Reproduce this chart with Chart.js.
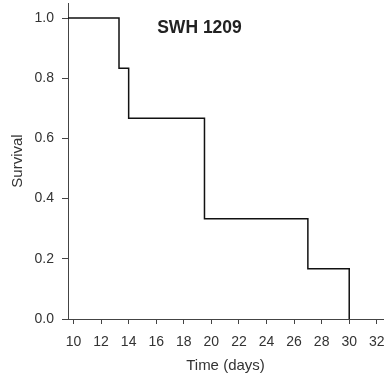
<!DOCTYPE html>
<html>
<head>
<meta charset="utf-8">
<script src="https://cdn.jsdelivr.net/npm/chart.js@4/dist/chart.umd.min.js"></script>
<style>
  html, body { margin: 0; padding: 0; background: #fff; }
  #wrap { width: 388px; height: 381px; }
</style>
</head>
<body>
<div id="wrap"><canvas id="survival-curve"></canvas></div>
<script>
// Kaplan-Meier steps: time at which survival drops, and survival after it
const times = [0, 13.3, 14, 19.5, 27, 30];
const survival = [1.0, 0.833, 0.667, 0.333, 0.167, 0.0];
const xTicks = [10, 12, 14, 16, 18, 20, 22, 24, 26, 28, 30, 32];
const yTicks = [0.0, 0.2, 0.4, 0.6, 0.8, 1.0];
const panelTitle = 'SWH 1209';

const ctx = document.getElementById('survival-curve').getContext('2d');

const textColor = '#333';
const axisColor = '#444';
const fontFamily = '"Liberation Sans", Arial, sans-serif';

// draws the panel name inside the plot area
const panelLabel = {
  id: 'panelLabel',
  afterDraw(chart) {
    const { ctx, chartArea } = chart;
    ctx.save();
    ctx.font = 'bold 17.5px ' + fontFamily;
    ctx.fillStyle = '#222';
    ctx.textAlign = 'center';
    ctx.textBaseline = 'middle';
    ctx.fillText(panelTitle, chartArea.left + 131.5, chartArea.top + 25.5);
    ctx.restore();
  }
};

const data = {
  datasets: [{
    label: 'Survival',
    data: times.map((t, i) => ({ x: t, y: survival[i] })),
    borderColor: '#111',
    borderWidth: 1.5,
    stepped: true,
    pointRadius: 0,
    fill: false
  }]
};

const options = {
  responsive: true,
  maintainAspectRatio: false,
  animation: false,
  layout: { padding: { top: 3, right: 5, left: 0, bottom: 0 } },
  plugins: {
    legend: { display: false },
    tooltip: { enabled: false }
  },
  scales: {
    x: {
      type: 'linear',
      min: 9.6,
      max: 32.45,
      afterBuildTicks: scale => { scale.ticks = xTicks.map(v => ({ value: v })); },
      afterFit: scale => {
        scale.height = 62;
        scale.paddingLeft = 0;
        scale.paddingRight = 0;
      },
      ticks: {
        color: textColor,
        padding: 10,
        font: { family: fontFamily, size: 14 }
      },
      grid: { drawOnChartArea: false, drawTicks: true, tickLength: 5, color: axisColor },
      border: { display: true, color: axisColor, width: 1 },
      title: {
        display: true,
        text: 'Time (days)',
        color: textColor,
        padding: { top: 0, bottom: 6 },
        font: { family: fontFamily, size: 15 }
      }
    },
    y: {
      min: 0,
      max: 1.05,
      afterBuildTicks: scale => { scale.ticks = yTicks.map(v => ({ value: v })); },
      afterFit: scale => {
        scale.width = 68;
        scale.paddingTop = 0;
        scale.paddingBottom = 0;
      },
      ticks: {
        color: textColor,
        padding: 8,
        font: { family: fontFamily, size: 14 },
        callback: v => v.toFixed(1)
      },
      grid: { drawOnChartArea: false, drawTicks: true, tickLength: 6, color: axisColor },
      border: { display: true, color: axisColor, width: 1 },
      title: {
        display: true,
        text: 'Survival',
        color: textColor,
        padding: { top: 9, bottom: 0 },
        font: { family: fontFamily, size: 15 }
      }
    }
  }
};

const chart = new Chart(ctx, {
  type: 'line',
  data: data,
  options: options,
  plugins: [panelLabel]
});
</script>
</body>
</html>
